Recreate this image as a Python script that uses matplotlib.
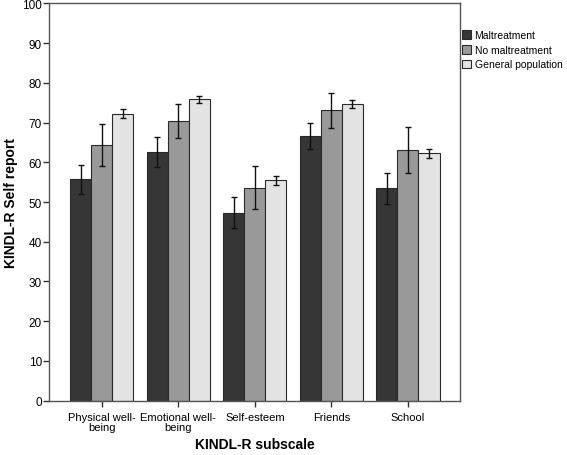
import matplotlib
matplotlib.use("Agg")
import matplotlib.pyplot as plt
import numpy as np

plt.rcParams["font.family"] = ["Liberation Sans", "DejaVu Sans"]

subscales = ["Physical well-\nbeing", "Emotional well-\nbeing", "Self-esteem", "Friends", "School"]
groups = ["Maltreatment", "No maltreatment", "General population"]

malt = [55.8, 62.7, 47.3, 66.6, 53.4]
malt_lo = [52.0, 58.9, 43.4, 63.3, 49.4]
malt_hi = [59.4, 66.3, 51.3, 69.9, 57.4]

nomalt = [64.3, 70.5, 53.6, 73.2, 63.2]
nomalt_lo = [59.1, 66.0, 48.2, 68.5, 57.4]
nomalt_hi = [69.6, 74.7, 59.1, 77.5, 68.9]

genpop = [72.2, 75.9, 55.5, 74.7, 62.3]
genpop_lo = [71.1, 74.8, 54.2, 73.6, 61.0]
genpop_hi = [73.3, 76.7, 56.6, 75.7, 63.3]

COLORS = ["#363636", "#999999", "#e3e3e3"]
EDGE = "#2a2a2a"

fig = plt.figure(figsize=(5.67, 4.56), dpi=100)
fig.patch.set_facecolor("white")
ax = fig.add_axes([49/567, 1-401.7/456, (460-49)/567, (401.7-4.3)/456])

x = np.arange(len(subscales))
w = 0.275
series = [(malt, malt_lo, malt_hi), (nomalt, nomalt_lo, nomalt_hi), (genpop, genpop_lo, genpop_hi)]
for i, (vals, lo, hi) in enumerate(series):
    v = np.array(vals); yerr = [v - np.array(lo), np.array(hi) - v]
    ax.bar(x + (i-1)*w, v, w, color=COLORS[i], edgecolor=EDGE, lw=0.8, label=groups[i],
           yerr=yerr, capsize=2, error_kw=dict(ecolor="#111111", elinewidth=1, capthick=1))

ax.set_xlim(-0.69, 4.68); ax.set_ylim(0, 100)
ax.set_yticks(range(0, 101, 10))
ax.set_xticks(x); ax.set_xticklabels(subscales, fontsize=8, linespacing=1.0)
ax.tick_params(axis="y", labelsize=8.5, length=4, width=1, color="#333333", pad=1)
ax.tick_params(axis="x", length=4, width=1, color="#333333", pad=4)
for s in ax.spines.values(): s.set_color("#555555"); s.set_linewidth(1)
ax.set_ylabel("KINDL-R Self report", fontsize=10, fontweight="bold", labelpad=3)
ax.set_xlabel("KINDL-R subscale", fontsize=10, fontweight="bold", labelpad=4)

fig.legend(loc="upper left", bbox_to_anchor=(460/567, 1-29/456), frameon=False, fontsize=7.5,
           handlelength=0.9, handleheight=0.9, handletextpad=0.3, labelspacing=0.45,
           borderaxespad=0, borderpad=0.2)

fig.savefig("out.png", dpi=100, facecolor="white")
